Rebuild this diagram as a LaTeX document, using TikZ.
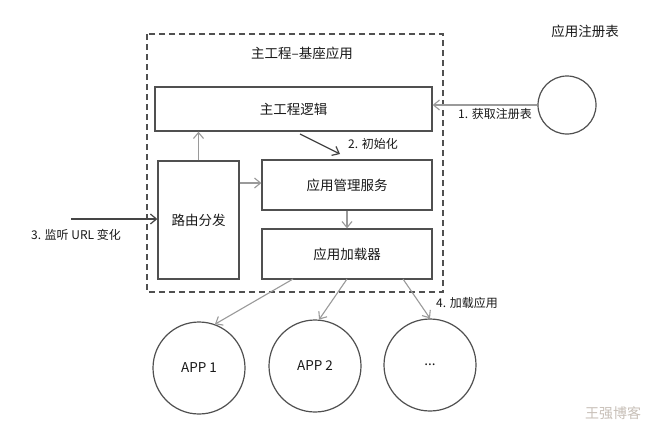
\documentclass[tikz,border=0pt]{standalone}
\usepackage{fontspec}
\setmainfont{Noto Sans CJK SC}
\usetikzlibrary{arrows.meta}
\definecolor{boxline}{HTML}{505050}
\definecolor{grayline}{HTML}{9A9A9A}
\definecolor{darkline}{HTML}{454545}
\definecolor{wm}{HTML}{C8C0B8}
\tikzset{
  box/.style={draw=boxline, line width=1.3pt, inner sep=0pt, font=\fontsize{13.5}{15}\selectfont, text=black!90},
  circ/.style={draw=boxline, line width=1.2pt, circle, inner sep=0pt, font=\fontsize{13.5}{15}\selectfont, text=black!90},
  lbl/.style={font=\fontsize{12}{14}\selectfont, text=black!90, inner sep=1pt},
  garrow/.style={draw=grayline, line width=1.1pt, -{Straight Barb[length=6pt,width=10pt]}},
  darrow/.style={draw=darkline, line width=1.2pt, -{Straight Barb[length=6pt,width=10pt]}},
}
\begin{document}
\begin{tikzpicture}[x=1pt,y=-1pt]
\useasboundingbox[fill=white] (0,0) rectangle (660,437);
% dashed container
\draw[boxline, line width=1.2pt, dash pattern=on 6pt off 4pt] (147,34) rectangle (443,292);
\node[font=\fontsize{13.5}{15}\selectfont, text=black!90] (title) at (302,53) {主工程–基座应用};
% boxes
\node[box, minimum width=277pt, minimum height=44pt] (main) at (293.5,109) {主工程逻辑};
\node[box, minimum width=81pt, minimum height=118pt] (router) at (198.5,220) {路由分发};
\node[box, minimum width=170pt, minimum height=50pt] (mgr) at (347,185) {应用管理服务};
\node[box, minimum width=170pt, minimum height=50pt] (loader) at (347,254) {应用加载器};
% registry
\node[circ, minimum size=58pt] (reg) at (567,105) {};
\node[font=\fontsize{13.5}{15}\selectfont, text=black!90] (regl) at (585,31) {应用注册表};
% apps
\node[circ, minimum size=92pt] (app1) at (199,368) {APP 1};
\node[circ, minimum size=92pt] (app2) at (315,366) {APP 2};
\node[circ, minimum size=92pt] (app3) at (430,365) {...};
% watermark
\node[font=\fontsize{14}{16}\selectfont, text=wm] (wmk) at (613,413) {王强博客};
% coordinates
\coordinate (inl) at (71,219);
\coordinate (a2s) at (300,134);
\coordinate (a2e) at (340,154);
% connectors
\draw[garrow] (reg.west) -- (main.east |- reg.west);
\node[lbl, anchor=north] (l1) at (495,107) {1. 获取注册表};
\draw[darrow] (a2s) -- (a2e);
\node[lbl] (l2) at (373,144) {2. 初始化};
\draw[darrow] (inl) -- (router.west |- inl);
\node[lbl] (l3) at (76,235) {3. 监听 URL 变化};
\draw[garrow] (router.north) -- (main.south -| router.north);
\draw[garrow] (router.east |- 0,183) -- (mgr.west |- 0,183);
\draw[garrow] (mgr.south) -- (loader.north);
\draw[garrow] (293,279) -- (app1.70);
\draw[garrow] (347,279) -- (app2.85);
\draw[garrow] (403,279) -- (app3.north);
\node[lbl] (l4) at (467,303) {4. 加载应用};
\end{tikzpicture}
\end{document}
